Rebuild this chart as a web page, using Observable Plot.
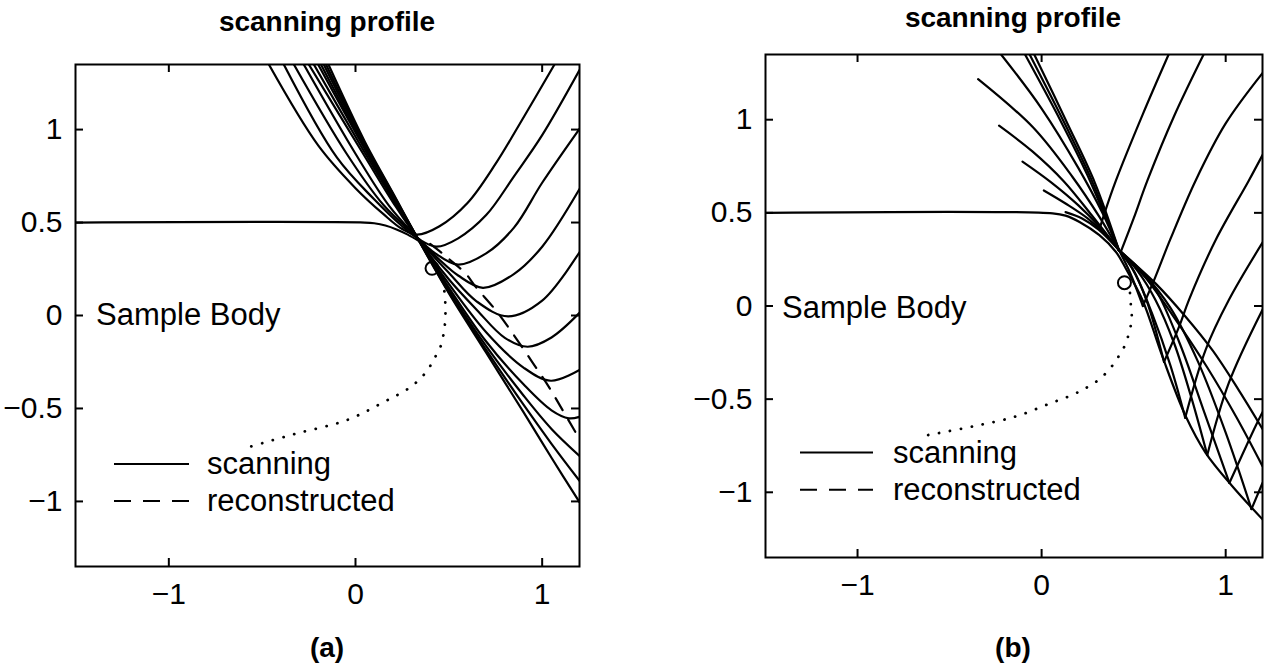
<!DOCTYPE html>
<html><head><meta charset="utf-8">
<script src="https://cdn.jsdelivr.net/npm/d3@7"></script>
<script src="https://cdn.jsdelivr.net/npm/@observablehq/plot@0.6"></script>
<style>
html,body{margin:0;padding:0;background:#fff;}
#page{position:relative;width:1265px;height:670px;overflow:hidden;background:#fff;font-family:"Liberation Sans",Arial,Helvetica,sans-serif;color:#000;}
#page > svg{position:absolute;}
</style></head><body><div id="page"></div>
<script>
// ---------- shared ticks ----------
const xTicks = [-1, 0, 1];
const yTicks = [-1, -0.5, 0, 0.5, 1];
const xDomain = [-1.5, 1.2];
const yDomain = [-1.35, 1.35];
const titles = ["scanning profile", "scanning profile"];
const captions = ["(a)", "(b)"];
const legendLabels = ["scanning", "reconstructed"];

// ---------- panel (a) ----------
const bodyA = [[-1.5,0.5],[0.05,0.5],[0.1,0.496],[0.16,0.484],[0.22,0.463],[0.28,0.435],[0.34,0.40]];
const scanA = [
  [[-0.464,1.35],[-0.2,0.915],[0.0,0.685],[0.15,0.545],[0.25,0.465],[0.33,0.435],[0.45,0.48],[0.6,0.605],[0.75,0.815],[0.9,1.065],[1.066,1.35]],
  [[-0.384,1.35],[-0.1,0.85],[0.1,0.625],[0.25,0.48],[0.34,0.41],[0.434,0.37],[0.55,0.415],[0.7,0.54],[0.85,0.75],[1.0,0.97],[1.2,1.32]],
  [[-0.33,1.35],[-0.05,0.874],[0.15,0.594],[0.33,0.42],[0.42,0.34],[0.549,0.274],[0.7,0.334],[0.85,0.474],[1.0,0.714],[1.2,1.004]],
  [[-0.277,1.35],[0.0,0.87],[0.18,0.59],[0.33,0.42],[0.45,0.30],[0.55,0.215],[0.683,0.149],[0.85,0.224],[1.0,0.37],[1.2,0.68]],
  [[-0.25,1.35],[0.05,0.855],[0.2,0.61],[0.33,0.42],[0.5,0.23],[0.65,0.075],[0.817,-0.005],[1.0,0.08],[1.2,0.34]],
  [[-0.223,1.35],[0.05,0.875],[0.2,0.625],[0.33,0.42],[0.5,0.195],[0.65,0.03],[0.8,-0.12],[0.922,-0.168],[1.05,-0.118],[1.2,0.014]],
  [[-0.2,1.35],[0.05,0.895],[0.2,0.635],[0.33,0.42],[0.5,0.17],[0.7,-0.09],[0.9,-0.28],[1.047,-0.351],[1.2,-0.293]],
  [[-0.185,1.35],[0.05,0.905],[0.2,0.645],[0.33,0.42],[0.5,0.15],[0.7,-0.14],[0.9,-0.37],[1.05,-0.51],[1.143,-0.553],[1.2,-0.545]],
  [[-0.17,1.35],[0.05,0.915],[0.2,0.65],[0.33,0.42],[0.5,0.135],[0.7,-0.165],[0.9,-0.43],[1.05,-0.61],[1.2,-0.755]],
  [[-0.158,1.35],[0.05,0.925],[0.2,0.655],[0.33,0.42],[0.5,0.125],[0.7,-0.185],[0.9,-0.48],[1.05,-0.69],[1.2,-0.889]],
  [[-0.145,1.35],[0.05,0.935],[0.2,0.66],[0.33,0.42],[0.5,0.12],[0.7,-0.2],[0.9,-0.52],[1.05,-0.765],[1.2,-1.004]]
];
const reconA = [[0.40,0.385],[0.464,0.335],[0.517,0.29],[0.589,0.227],[0.643,0.155],[0.75,0.03],[0.848,-0.105],[0.946,-0.249],[1.035,-0.383],[1.11,-0.51],[1.18,-0.63]];
const dotsA = [[0.47,0.19],[0.48,0.085],[0.482,0.012],[0.478,-0.057],[0.469,-0.114],[0.452,-0.177],[0.419,-0.236],[0.389,-0.29],[0.339,-0.347],[0.277,-0.397],[0.164,-0.459],[-0.045,-0.562],[-0.332,-0.639],[-0.60,-0.716]];
const circleA = [[0.41,0.254]];
const labelA = [{x:-1.39, y:0, text:"Sample Body"}];

// ---------- panel (b) ----------
const bodyB = [[-1.5,0.5],[0.06,0.497],[0.13,0.485],[0.206,0.451],[0.314,0.38],[0.404,0.29],[0.458,0.20],[0.548,0.032],[0.656,-0.271],[0.783,-0.592],[0.891,-0.788],[1.035,-0.966],[1.2,-1.145]];
const leftArmsB = [
  [[-0.345,1.218],[-0.047,0.959],[0.169,0.691],[0.314,0.478],[0.42,0.30]],
  [[-0.231,0.968],[-0.05,0.83],[0.12,0.67],[0.27,0.49],[0.42,0.30]],
  [[-0.104,0.775],[0.05,0.665],[0.2,0.54],[0.32,0.42],[0.42,0.30]],
  [[0.012,0.62],[0.13,0.55],[0.25,0.47],[0.35,0.38],[0.42,0.30]],
  [[0.13,0.504],[0.22,0.47],[0.31,0.41],[0.42,0.30]],
  [[-0.22,1.35],[0.0,1.06],[0.2,0.74],[0.33,0.50],[0.42,0.30]],
  [[-0.09,1.35],[0.1,1.0],[0.25,0.7],[0.42,0.30]],
  [[-0.065,1.35],[0.12,0.99],[0.27,0.68],[0.42,0.30]],
  [[-0.04,1.35],[0.14,0.98],[0.29,0.66],[0.42,0.30]]
];
const downArmsB = [
  [[0.42,0.30],[0.48,0.18],[0.55,0.0]],
  [[0.42,0.30],[0.49,0.205],[0.57,0.03],[0.665,-0.30]],
  [[0.42,0.30],[0.50,0.19],[0.6,-0.04],[0.7,-0.32],[0.78,-0.60]],
  [[0.42,0.30],[0.52,0.19],[0.62,0.03],[0.72,-0.2],[0.81,-0.48],[0.90,-0.80]],
  [[0.42,0.30],[0.52,0.20],[0.62,0.086],[0.75,-0.20],[0.88,-0.56],[1.02,-0.95]],
  [[0.42,0.30],[0.55,0.18],[0.7,-0.01],[0.85,-0.3],[1.0,-0.68],[1.14,-1.09]],
  [[0.42,0.30],[0.5,0.23],[0.62,0.12],[0.78,-0.055],[0.93,-0.24],[1.07,-0.45],[1.2,-0.66]],
  [[0.42,0.30],[0.55,0.17],[0.712,-0.05],[0.9,-0.33],[1.06,-0.6],[1.2,-0.86]]
];
const upArmsB = [
  [[0.32,0.43],[0.341,0.496],[0.404,0.674],[0.55,1.03],[0.69,1.35]],
  [[0.43,0.29],[0.50,0.47],[0.575,0.674],[0.72,1.02],[0.88,1.35]],
  [[0.55,0.0],[0.611,0.139],[0.70,0.36],[0.837,0.674],[1.0,0.98],[1.2,1.25]],
  [[0.665,-0.30],[0.747,-0.111],[0.80,0.032],[0.945,0.353],[1.126,0.674],[1.2,0.81]],
  [[0.78,-0.60],[0.891,-0.235],[1.017,0.032],[1.2,0.34]],
  [[0.90,-0.80],[1.017,-0.413],[1.2,-0.02]],
  [[1.02,-0.95],[1.162,-0.645],[1.2,-0.57]],
  [[1.14,-1.09],[1.2,-0.95]]
];
const dotsB = [[0.48,0.07],[0.486,-0.012],[0.49,-0.075],[0.476,-0.137],[0.458,-0.2],[0.426,-0.258],[0.392,-0.31],[0.341,-0.369],[0.287,-0.413],[0.224,-0.449],[0.17,-0.476],[0.043,-0.524],[-0.137,-0.592],[-0.372,-0.646],[-0.624,-0.694]];
const circleB = [[0.45,0.125]];
const labelB = [{x:-1.41, y:-0.01, text:"Sample Body"}];

// ---------- helpers ----------
const FONT = '"Liberation Sans", Arial, Helvetica, sans-serif';
const fmt = d => (d < 0 ? "\u2212" + Math.abs(d) : String(d));
const rows = curves => curves.flatMap((c, i) => c.map(([x, y]) => ({id: i, x, y})));
const pts = c => c.map(([x, y]) => ({x, y}));
const TICK = 8;

function panel({left, frameW, frameH, mTop, curves, body, recon, dots, circle, label}) {
  const mL = 75, mR = 3, mB = 80;
  const lineOpts = {x: "x", y: "y", z: "id", curve: "catmull-rom", stroke: "black", strokeWidth: 2.2, clip: true};
  const marks = [
    Plot.frame({stroke: "black", strokeWidth: 2}),
    Plot.axisX({ticks: xTicks, tickSize: 0, tickPadding: 16, tickFormat: fmt, fontSize: 30}),
    Plot.axisY({ticks: yTicks, tickSize: 0, tickPadding: 13, tickFormat: fmt, fontSize: 30}),
    // inward ticks on all four sides
    Plot.tickX(xTicks, {x: d => d, insetTop: frameH - TICK, stroke: "black", strokeWidth: 2}),
    Plot.tickX(xTicks, {x: d => d, insetBottom: frameH - TICK, stroke: "black", strokeWidth: 2}),
    Plot.tickY(yTicks, {y: d => d, insetRight: frameW - TICK, stroke: "black", strokeWidth: 2}),
    Plot.tickY(yTicks, {y: d => d, insetLeft: frameW - TICK, stroke: "black", strokeWidth: 2}),
    Plot.line(pts(body), {x: "x", y: "y", curve: "catmull-rom", stroke: "black", strokeWidth: 2.2, clip: true}),
    ...curves.map(c => Plot.line(rows(c), lineOpts))
  ];
  if (recon) marks.push(Plot.line(pts(recon), {x: "x", y: "y", curve: "catmull-rom", stroke: "black", strokeWidth: 2.2, strokeDasharray: "14 11", clip: true}));
  marks.push(
    Plot.line(pts(dots), {x: "x", y: "y", curve: "catmull-rom", stroke: "black", strokeWidth: 2.8, strokeLinecap: "round", strokeDasharray: "0.1 11", clip: true}),
    Plot.dot(pts(circle), {x: "x", y: "y", r: 6.5, stroke: "black", strokeWidth: 2, fill: "none"}),
    Plot.text(label, {x: "x", y: "y", text: "text", textAnchor: "start", fontSize: 31, fill: "black"})
  );
  const svg = Plot.plot({
    width: mL + frameW + mR,
    height: mTop + frameH + mB,
    marginLeft: mL, marginRight: mR, marginTop: mTop, marginBottom: mB,
    x: {domain: xDomain, label: null},
    y: {domain: yDomain, label: null},
    style: {fontFamily: FONT, fontSize: "30px", color: "black", background: "transparent", overflow: "visible"},
    marks
  });
  svg.style.left = (left - mL) + "px";
  svg.style.top = "0px";
  return svg;
}

const page = document.getElementById("page");
page.appendChild(panel({left: 75, frameW: 504, frameH: 502, mTop: 64, curves: [scanA], body: bodyA, recon: reconA, dots: dotsA, circle: circleA, label: labelA}));
page.appendChild(panel({left: 765, frameW: 497, frameH: 503, mTop: 54, curves: [leftArmsB, downArmsB, upArmsB], body: bodyB, recon: null, dots: dotsB, circle: circleB, label: labelB}));

// ---------- titles, captions, legends (overlay) ----------
const NS = "http://www.w3.org/2000/svg";
const ov = document.createElementNS(NS, "svg");
ov.setAttribute("width", 1265); ov.setAttribute("height", 670);
ov.style.left = "0px"; ov.style.top = "0px";
ov.setAttribute("font-family", FONT);
function txt(x, y, s, size, weight, anchor) {
  const t = document.createElementNS(NS, "text");
  t.setAttribute("x", x); t.setAttribute("y", y);
  t.setAttribute("font-size", size); t.setAttribute("font-weight", weight);
  t.setAttribute("text-anchor", anchor); t.setAttribute("fill", "black");
  t.textContent = s; ov.appendChild(t);
}
function ln(x1, x2, y, dash) {
  const l = document.createElementNS(NS, "line");
  l.setAttribute("x1", x1); l.setAttribute("x2", x2); l.setAttribute("y1", y); l.setAttribute("y2", y);
  l.setAttribute("stroke", "black"); l.setAttribute("stroke-width", 2);
  if (dash) l.setAttribute("stroke-dasharray", dash);
  ov.appendChild(l);
}
txt(327, 31, titles[0], 28, "bold", "middle");
txt(1013, 27, titles[1], 28, "bold", "middle");
txt(327, 657, captions[0], 28, "bold", "middle");
txt(1013, 657, captions[1], 28, "bold", "middle");
// legend (a)
ln(114, 189, 464); ln(114, 189, 501, "17 12");
txt(207, 474, legendLabels[0], 31, "normal", "start");
txt(207, 511, legendLabels[1], 31, "normal", "start");
// legend (b)
ln(800, 873, 452.5); ln(800, 873, 489.8, "17 12");
txt(893, 462.5, legendLabels[0], 31, "normal", "start");
txt(893, 500, legendLabels[1], 31, "normal", "start");
page.appendChild(ov);
</script>
</body></html>
